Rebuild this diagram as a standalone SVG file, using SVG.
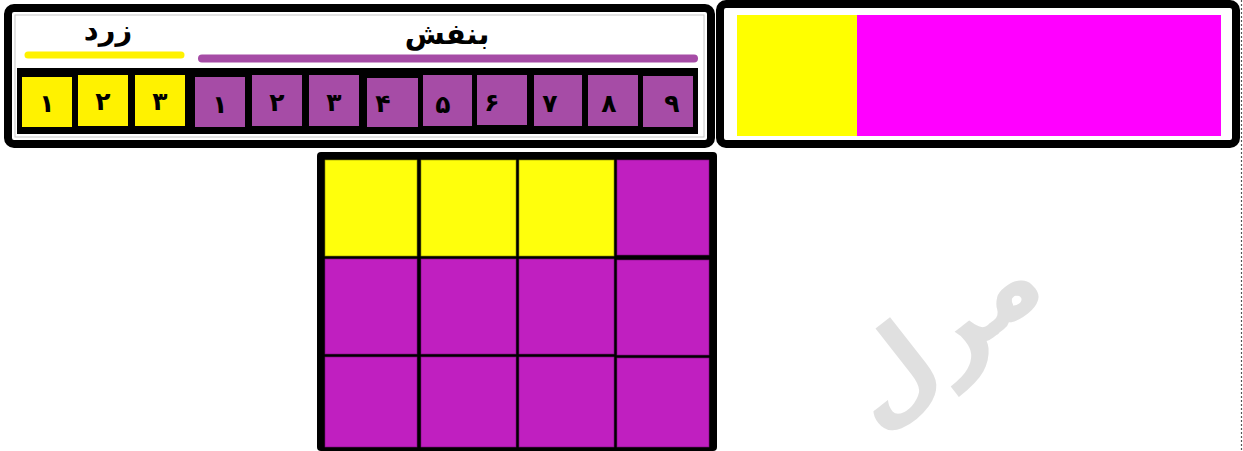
<svg xmlns="http://www.w3.org/2000/svg" width="1243" height="451" viewBox="0 0 1243 451">
<style>
.frame{fill:#fff;stroke:#000;stroke-width:8}
.y{fill:#fff200}
.p{fill:#a64ca6}
.dg{font-family:"DejaVu Sans",sans-serif;font-weight:bold;font-size:25px;fill:#000;text-anchor:middle}
.lbl{font-family:"DejaVu Sans",sans-serif;font-weight:bold;font-size:29px;fill:#000;text-anchor:middle}
.gy{fill:#ffff0c;stroke:#8a8a00;stroke-width:0.6}
.gp{fill:#c01fc0;stroke:#7a107a;stroke-width:0.6}
</style>
<rect width="1243" height="451" fill="#fff"/>
<line x1="1241.5" y1="0" x2="1241.5" y2="451" stroke="#555" stroke-width="1.2" stroke-dasharray="2,2"/>

<g id="watermark">
<text x="0" y="0" transform="translate(962,362) rotate(-38)" font-family="DejaVu Sans,sans-serif" font-weight="bold" font-size="105" fill="#e0e0e0" text-anchor="middle">مرل</text>
</g>

<g id="strip-panel">
<rect class="frame" x="8" y="8" width="703" height="136" rx="6"/>
<rect x="15" y="15" width="689" height="122" fill="none" stroke="#c8c8c8" stroke-width="1"/>
<text class="lbl" x="108" y="40">زرد</text>
<text class="lbl" x="447" y="44">بنفش</text>
<line x1="28" y1="55" x2="181" y2="55" stroke="#fff200" stroke-width="7" stroke-linecap="round"/>
<line x1="202" y1="58.5" x2="694" y2="58.5" stroke="#a64ca6" stroke-width="8" stroke-linecap="round"/>
<rect x="17" y="68" width="681" height="66" fill="#000"/>
<rect class="y" x="22" y="77" width="50" height="50"/>
<rect class="y" x="78" y="75" width="50" height="51"/>
<rect class="y" x="135" y="75" width="50" height="51"/>
<rect class="p" x="195" y="77" width="50" height="50"/>
<rect class="p" x="252" y="75" width="50" height="51"/>
<rect class="p" x="309" y="75" width="50" height="51"/>
<rect class="p" x="367" y="78" width="51" height="49"/>
<rect class="p" x="423" y="75" width="49" height="51"/>
<rect class="p" x="477" y="75" width="50" height="50"/>
<rect class="p" x="534" y="75" width="48" height="51"/>
<rect class="p" x="588" y="75" width="50" height="51"/>
<rect class="p" x="643" y="76" width="50" height="51"/>
<text class="dg" x="47" y="112">۱</text>
<text class="dg" x="103" y="110">۲</text>
<text class="dg" x="160" y="110">۳</text>
<text class="dg" x="220" y="113">۱</text>
<text class="dg" x="277" y="111">۲</text>
<text class="dg" x="334" y="111">۳</text>
<text class="dg" x="383" y="112">۴</text>
<text class="dg" x="443" y="113">۵</text>
<text class="dg" x="492" y="111">۶</text>
<text class="dg" x="550" y="112">۷</text>
<text class="dg" x="609" y="112">۸</text>
<text class="dg" x="672" y="112">۹</text>
</g>

<g id="bar-panel">
<rect class="frame" x="720" y="4" width="516" height="140" rx="6"/>
<rect x="737" y="15" width="120" height="121" fill="#ffff00"/>
<rect x="857" y="15" width="364" height="121" fill="#ff00ff"/>
</g>

<g id="grid">
<rect x="317" y="152" width="400" height="299" rx="4" fill="#000"/>
<rect class="gy" x="325" y="160" width="92" height="96"/>
<rect class="gy" x="421" y="160" width="95" height="96"/>
<rect class="gy" x="519" y="160" width="95" height="96"/>
<rect class="gp" x="617" y="160" width="92" height="95"/>
<rect class="gp" x="325" y="259" width="92" height="95"/>
<rect class="gp" x="421" y="259" width="95" height="95"/>
<rect class="gp" x="519" y="259" width="95" height="95"/>
<rect class="gp" x="617" y="260" width="92" height="95"/>
<rect class="gp" x="325" y="357" width="92" height="90"/>
<rect class="gp" x="421" y="357" width="95" height="90"/>
<rect class="gp" x="519" y="357" width="95" height="90"/>
<rect class="gp" x="617" y="358" width="92" height="89"/>
</g>
</svg>
